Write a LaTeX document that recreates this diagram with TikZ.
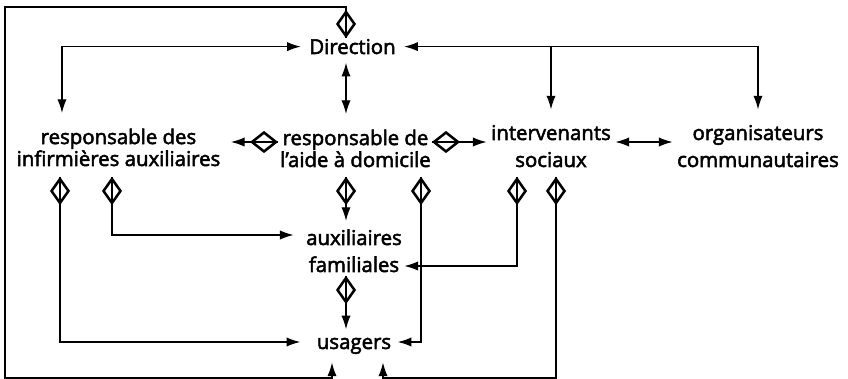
\documentclass[tikz,border=0pt]{standalone}
\usepackage{fontspec}
\setmainfont{Open Sans}[FakeBold=2.5]
\usetikzlibrary{shapes.geometric,arrows.meta}

\begin{document}
\begin{tikzpicture}[x=0.025cm,y=-0.025cm,line width=0.9pt,
  >={Latex[length=0.34cm,width=0.23cm]},
  lbl/.style={anchor=base,align=center,inner xsep=0.1cm,inner ysep=0.375cm,font=\fontsize{14.5}{19.2}\selectfont},
  tight/.style={font=\fontsize{14.5}{14.2}\selectfont},
  vgate/.style={diamond,draw,line width=1.8pt,inner sep=0pt,minimum width=0.45cm,minimum height=0.625cm},
  hgate/.style={vgate,minimum width=0.625cm,minimum height=0.5cm}]
  \useasboundingbox (0,0) rectangle (848,379);

  % labels (base = baseline of the last line)
  \node[lbl,inner xsep=0.2cm,inner ysep=0.2cm] (dir) at (352.5,54) {Direction};
  \node[lbl,tight,inner xsep=0.25cm] (rdes) at (118.5,166) {responsable des\\infirmières auxiliaires};
  \node[lbl,tight] (rde) at (355.5,167) {responsable de\\l’aide à domicile};
  \node[lbl] (inter) at (551,167) {intervenants\\sociaux};
  \node[lbl] (org) at (758,167) {organisateurs\\communautaires};
  \node[lbl,inner xsep=0.05cm,inner ysep=0.2cm] (aux) at (354,272) {auxiliaires\\familiales};
  \node[lbl,inner xsep=0.15cm,inner ysep=0.2cm] (usg) at (354,349) {usagers};

  % gates
  \node[vgate] (d0) at (346,24) {};
  \node[hgate] (dL) at (264,142) {};
  \node[hgate] (dR) at (446,142) {};
  \node[vgate] (dA) at (60,191) {};
  \node[vgate] (dB) at (112,191) {};
  \node[vgate] (dC) at (346,191) {};
  \node[vgate] (dD) at (421,191) {};
  \node[vgate] (dE) at (517,191) {};
  \node[vgate] (dF) at (556,191) {};
  \node[vgate] (dG) at (346,290) {};

  \coordinate (fTL) at (5,7);
  \coordinate (fBL) at (5,378);
  \coordinate (yAux) at (0,235);
  \coordinate (yFam) at (0,266);
  \coordinate (yUsg) at (0,342);
  \coordinate (uL) at ([xshift=-0.55cm]usg.south);
  \coordinate (uR) at ([xshift=0.725cm]usg.south);

  % outer loop
  \draw[->] (d0.south) |- (fTL) |- (fBL) -| (uL);

  \draw[<->] (dir.west) -| ([xshift=-1.4125cm]rdes.north);
  \draw[<->] (dir.east) -| (org.north);
  \draw[->] (dir.east -| inter.north) -- (inter.north);
  \draw[<->] (d0 |- dir.south) -- (d0 |- rde.north);

  \draw[->] (dL.east) -- (dL.east -| rdes.east);
  \draw[->] (dR.west) -- (dR.west -| inter.west);
  \draw[<->] (inter.east |- dR) -- (org.west |- dR);

  \draw[->,shorten >=0.25cm] (dA.north) |- (usg.west |- yUsg);
  \draw[->,shorten >=0.25cm] (dB.north) |- (aux.west |- yAux);
  \draw[->] (dC.north) -- (dC.north |- aux.north);
  \draw[->] (dD.north) |- (usg.east |- yUsg);
  \draw[->] (dE.north) |- (aux.east |- yFam);
  \draw[->] (dF.north) |- (uR |- fBL) -- (uR);
  \draw[->] (dG.north) -- (dG.north |- usg.north);
\end{tikzpicture}
\end{document}
